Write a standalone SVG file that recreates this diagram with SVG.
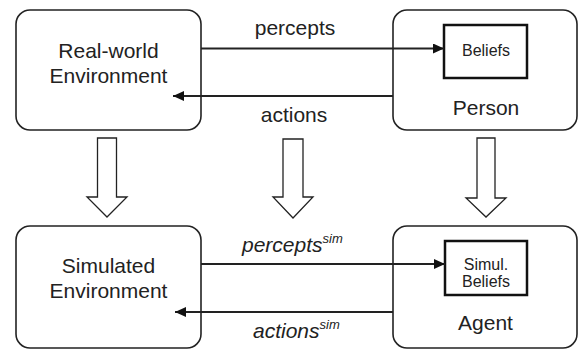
<svg xmlns="http://www.w3.org/2000/svg" width="579" height="349" viewBox="0 0 579 349">
<defs>
<style>
.box{fill:#fff;stroke:#222;stroke-width:1.6}
.inner{fill:#fff;stroke:#111;stroke-width:2.5}
.conn{stroke:#222;stroke-width:2;fill:none}
.hollow{fill:#fff;stroke:#222;stroke-width:1.3}
text{font-family:"Liberation Sans",Arial,sans-serif;fill:#222}
.lg{font-size:21px;text-anchor:middle}
.sm{font-size:16px;text-anchor:middle}
.it{font-style:italic;font-size:21px}
.sup{font-size:13px}
</style>
<marker id="ah" markerWidth="11" markerHeight="10" refX="11" refY="5" orient="auto" markerUnits="userSpaceOnUse">
<path d="M0,0 L11,5 L0,10 Z" fill="#111"/>
</marker>
</defs>
<rect width="579" height="349" fill="#fff"/>

<g id="real-world">
<rect class="box" x="16" y="10" width="185" height="120" rx="14"/>
<text class="lg" x="108.5" y="58">Real-world</text>
<text class="lg" x="108.5" y="83">Environment</text>
</g>

<g id="person">
<rect class="box" x="393" y="10" width="184" height="120" rx="14"/>
<text class="lg" x="486" y="115">Person</text>
</g>

<g id="beliefs">
<rect class="inner" x="444" y="25" width="83" height="53"/>
<text class="sm" x="486" y="56">Beliefs</text>
</g>

<g id="simulated">
<rect class="box" x="16" y="226" width="185" height="122" rx="14"/>
<text class="lg" x="108.5" y="273">Simulated</text>
<text class="lg" x="108.5" y="298">Environment</text>
</g>

<g id="agent">
<rect class="box" x="393" y="226" width="184" height="122" rx="14"/>
<text class="lg" x="485.5" y="330">Agent</text>
</g>

<g id="simul-beliefs">
<rect class="inner" x="445" y="241" width="82" height="54"/>
<text class="sm" x="486" y="270" style="font-size:16px">Simul.</text>
<text class="sm" x="486" y="287" style="font-size:16px">Beliefs</text>
</g>

<g id="connectors">
<line class="conn" x1="201" y1="48.5" x2="444" y2="48.5" marker-end="url(#ah)"/>
<line class="conn" x1="393" y1="96" x2="173" y2="96" marker-end="url(#ah)"/>
<line class="conn" x1="201" y1="264" x2="445" y2="264" marker-end="url(#ah)"/>
<line class="conn" x1="393" y1="312" x2="175" y2="312" marker-end="url(#ah)"/>
<polygon class="hollow" points="97.5,138 116.5,138 116.5,197 127,197 107,217 87,197 97.5,197"/>
<polygon class="hollow" points="283,139 303,139 303,197 313,197 293,218 273,197 283,197"/>
<polygon class="hollow" points="477,138 495,138 495,198 506,198 486,217 466,198 477,198"/>
<text class="lg" x="295" y="35">percepts</text>
<text class="lg" x="294" y="122">actions</text>
<text class="it" x="242" y="252">percepts<tspan class="sup" dy="-9">sim</tspan></text>
<text class="it" x="253" y="338">actions<tspan class="sup" dy="-9">sim</tspan></text>
</g>
</svg>
